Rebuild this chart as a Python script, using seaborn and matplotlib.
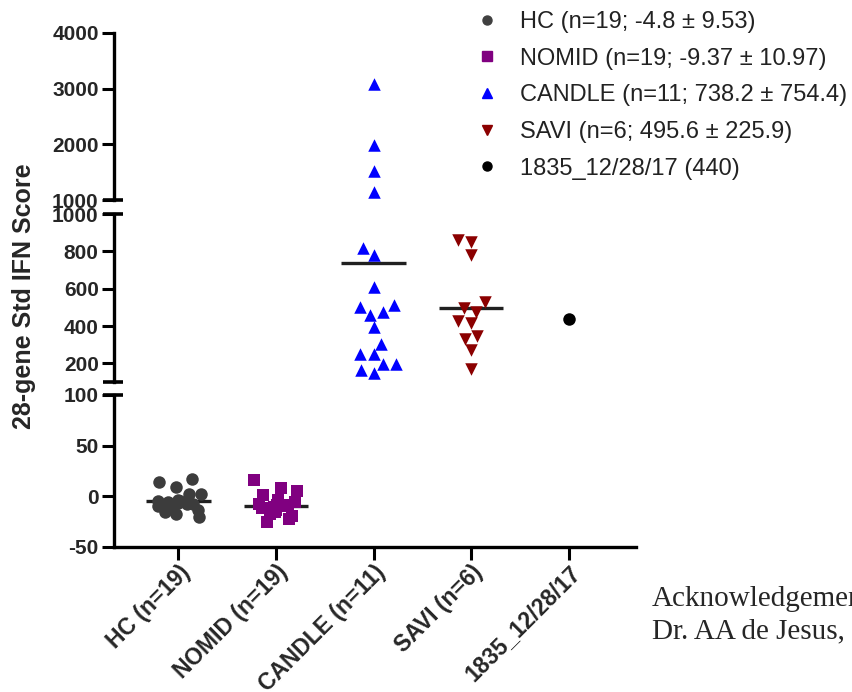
import numpy as np
import pandas as pd
import matplotlib
matplotlib.use("Agg")
import matplotlib.pyplot as plt
from matplotlib.lines import Line2D
import seaborn as sns

# ---- data ----
categories = ["HC", "NOMID", "CANDLE", "SAVI", "1835_12/28/17"]
tick_labels = ["HC (n=19)", "NOMID (n=19)", "CANDLE (n=11)", "SAVI (n=6)", "1835_12/28/17"]
hc_vals = [14, 17, 9, 2, 2, -5, -4, -5, -6, -7, -8, -8, -10, -10, -12, -13, -15, -17, -20]
nomid_vals = [16, 8, 5, 1, -4, -6, -8, -9, -9, -10, -11, -12, -13, -14, -15, -17, -19, -22, -25]
candle_vals = [3080, 1990, 1520, 1140, 820, 778, 609, 515, 501, 474, 458, 393, 306,
               252, 252, 198, 195, 162, 150]
savi_vals = [859, 852, 778, 526, 499, 477, 427, 415, 346, 328, 270, 168]
pt1835_vals = [440]
group_means = [-4.8, -9.37, 738.2, 495.6]
legend_labels = ["HC (n=19; -4.8 \u00b1 9.53)", "NOMID (n=19; -9.37 \u00b1 10.97)",
                 "CANDLE (n=11; 738.2 \u00b1 754.4)", "SAVI (n=6; 495.6 \u00b1 225.9)",
                 "1835_12/28/17 (440)"]

colors = ["#3c3c3c", "#800080", "#0000ff", "#8b0000", "#000000"]
markers = ["o", "s", "^", "v", "o"]
sizes = [9, 8.5, 9, 9, 9]
use_strip = [True, True, False, False, False]

np.random.seed(7)
sns.set_style("white")
plt.rcParams["font.family"] = ["Liberation Sans", "DejaVu Sans"]

fig = plt.figure(figsize=(8.53, 6.92), dpi=100)
W, H = 853, 692
left = 114 / W
width = (636 - 114) / W

def mk_axes(ytop, ybot):
    return fig.add_axes([left, (H - ybot) / H, width, (ybot - ytop) / H])

ax_top = mk_axes(33, 200)
ax_mid = mk_axes(214, 382)
ax_bot = mk_axes(395, 547)

all_vals = [hc_vals, nomid_vals, candle_vals, savi_vals, pt1835_vals]
segs = [(ax_top, 1000, 4000), (ax_mid, 100, 1000), (ax_bot, -50, 100)]

for ax, lo, hi in segs:
    for i, (cat, vals) in enumerate(zip(categories, all_vals)):
        v = [x for x in vals if (lo <= x < hi) or (hi == 4000 and lo <= x <= hi)]
        if not v:
            continue
        df = pd.DataFrame({"cat": [cat] * len(v), "val": v})
        if use_strip[i]:
            sns.stripplot(data=df, x="cat", y="val", order=categories, color=colors[i],
                          marker=markers[i], size=sizes[i], linewidth=0, ax=ax,
                          zorder=3, jitter=0.24)
        else:
            sns.swarmplot(data=df, x="cat", y="val", order=categories, color=colors[i],
                          marker=markers[i], size=sizes[i], linewidth=0, ax=ax, zorder=3,
                          warn_thresh=1.0)
    for i, m in enumerate(group_means):
        if lo <= m < hi:
            ax.hlines(m, i - 0.33, i + 0.33, color="#202020", lw=2.4, zorder=2)
    ax.set_ylim(lo, hi)
    ax.set_xlim(-0.66, 4.69)
    ax.set_xlabel("")
    ax.set_ylabel("")
    for s in ["top", "right"]:
        ax.spines[s].set_visible(False)
    ax.spines["left"].set_linewidth(2.4)
    ax.spines["left"].set_color("black")
    ax.tick_params(axis="y", length=9, width=2.2, color="black", pad=2,
                   labelsize=15, left=True)

ax_top.set_yticks([1000, 2000, 3000, 4000])
ax_mid.set_yticks([200, 400, 600, 800, 1000])
ax_bot.set_yticks([-50, 0, 50, 100])
for ax in (ax_top, ax_mid, ax_bot):
    ax.set_yticklabels([str(t) for t in ax.get_yticks().astype(int)], fontweight="bold",
                       fontsize=15)

for ax in (ax_top, ax_mid):
    ax.spines["bottom"].set_visible(False)
    ax.tick_params(axis="x", bottom=False, labelbottom=False)

ax_bot.spines["bottom"].set_linewidth(2.4)
ax_bot.spines["bottom"].set_color("black")
ax_bot.tick_params(axis="x", length=9, width=2.2, color="black", bottom=True, pad=1)
ax_bot.set_xticks(range(len(categories)))
ax_bot.set_xticklabels(tick_labels, rotation=45, ha="right", rotation_mode="anchor",
                       fontsize=16.5, fontweight="bold")

# axis-break caps
for ax, ypos in [(ax_top, 0), (ax_mid, 1), (ax_mid, 0), (ax_bot, 1)]:
    ax.plot([-0.021, 0.018], [ypos, ypos], transform=ax.transAxes, color="black",
            lw=2.6, clip_on=False, solid_capstyle="butt")

fig.text(24 / W, (H - 296) / H, "28-gene Std IFN Score", rotation=90, ha="center",
         va="center", fontsize=18, fontweight="bold")

handles = [Line2D([], [], marker=markers[i], color=colors[i], linestyle="none",
                  markersize=6.5) for i in range(5)]
handles[0].set_color("#404040")
fig.legend(handles, legend_labels, loc="upper left", bbox_to_anchor=(475 / W, 1 - 11 / H),
           frameon=False, fontsize=17, handlelength=1.0, handletextpad=0.9,
           labelspacing=0.62, borderpad=0, borderaxespad=0, labelcolor="#222222")

fig.text(652 / W, (H - 606) / H, "Acknowledgement", family="Liberation Serif",
         fontsize=21, ha="left", va="baseline")
fig.text(652 / W, (H - 638) / H, "Dr. AA de Jesus, N", family="Liberation Serif",
         fontsize=21, ha="left", va="baseline")

fig.savefig("out.png", dpi=100)
